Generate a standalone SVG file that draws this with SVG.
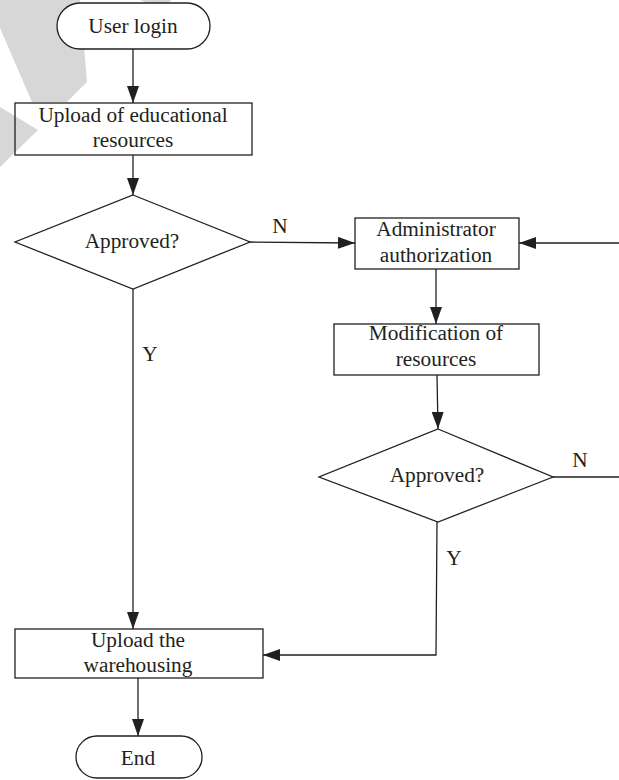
<svg xmlns="http://www.w3.org/2000/svg" width="619" height="780" viewBox="0 0 619 780">
  <defs>
    <style>
      .node { fill: #ffffff; stroke: #231f20; stroke-width: 1.3; }
      .open { fill: none; stroke: #231f20; stroke-width: 1.3; }
      .edge { fill: none; stroke: #231f20; stroke-width: 1.3; }
      .label { font-family: "Liberation Serif", "Times New Roman", serif; font-size: 21.3px; fill: #231f20; text-anchor: middle; }
      .mark { fill: #d7d7d7; stroke: none; }
    </style>
    <marker id="arrow" markerUnits="userSpaceOnUse" markerWidth="18" markerHeight="12" refX="17" refY="6" orient="auto">
      <path d="M0,0 L17,6 L0,12 Z" fill="#231f20"/>
    </marker>
  </defs>

  <rect width="619" height="780" fill="#ffffff"/>

  <!-- light grey corner watermark -->
  <g id="watermark">
    <polygon class="mark" points="0,0 80,0 87,82 67,102 32,102 0,28"/>
    <polygon class="mark" points="0,107 38,130 0,167"/>
    <polygon class="mark" points="140,0 172,0 160,9"/>
  </g>

  <!-- connectors -->
  <g id="connectors">
    <line class="edge" x1="133" y1="49" x2="133" y2="103" marker-end="url(#arrow)"/>
    <line class="edge" x1="133" y1="155" x2="133" y2="195" marker-end="url(#arrow)"/>
    <line class="edge" x1="250" y1="242" x2="355" y2="243" marker-end="url(#arrow)"/>
    <line class="edge" x1="619" y1="243" x2="519" y2="243" marker-end="url(#arrow)"/>
    <line class="edge" x1="436" y1="269" x2="436" y2="324" marker-end="url(#arrow)"/>
    <line class="edge" x1="437" y1="375" x2="438" y2="429" marker-end="url(#arrow)"/>
    <line class="edge" x1="553" y1="477" x2="619" y2="477"/>
    <line class="edge" x1="133" y1="289" x2="133" y2="629" marker-end="url(#arrow)"/>
    <polyline class="edge" points="437,522 436,655 263,655" marker-end="url(#arrow)"/>
    <line class="edge" x1="138" y1="678" x2="138" y2="736" marker-end="url(#arrow)"/>
    <text class="label" x="280" y="233">N</text>
    <text class="label" x="150" y="361">Y</text>
    <text class="label" x="580" y="467">N</text>
    <text class="label" x="454" y="565">Y</text>
  </g>

  <g id="start">
    <rect class="node" x="57" y="3" width="153" height="46" rx="23" ry="23"/>
    <text class="label" x="133" y="33">User login</text>
  </g>

  <g id="upload-resources">
    <rect class="open" x="15" y="103" width="237" height="52"/>
    <text class="label" x="133" y="122">Upload of educational</text>
    <text class="label" x="133" y="147">resources</text>
  </g>

  <g id="approved-1">
    <polygon class="node" points="133,195 250,242 133,289 15,242"/>
    <text class="label" x="132" y="248">Approved?</text>
  </g>

  <g id="admin-auth">
    <rect class="node" x="355" y="218" width="164" height="51"/>
    <text class="label" x="436" y="236">Administrator</text>
    <text class="label" x="436" y="262">authorization</text>
  </g>

  <g id="modify-resources">
    <rect class="node" x="334" y="324" width="205" height="51"/>
    <text class="label" x="436" y="340">Modification of</text>
    <text class="label" x="436" y="366">resources</text>
  </g>

  <g id="approved-2">
    <polygon class="node" points="438,429 553,477 438,522 319,477"/>
    <text class="label" x="437" y="482">Approved?</text>
  </g>

  <g id="warehousing">
    <rect class="node" x="15" y="629" width="248" height="49"/>
    <text class="label" x="138" y="647">Upload the</text>
    <text class="label" x="138" y="672">warehousing</text>
  </g>

  <g id="end">
    <rect class="node" x="76" y="736" width="126" height="42" rx="21" ry="21"/>
    <text class="label" x="138" y="765">End</text>
  </g>
</svg>
